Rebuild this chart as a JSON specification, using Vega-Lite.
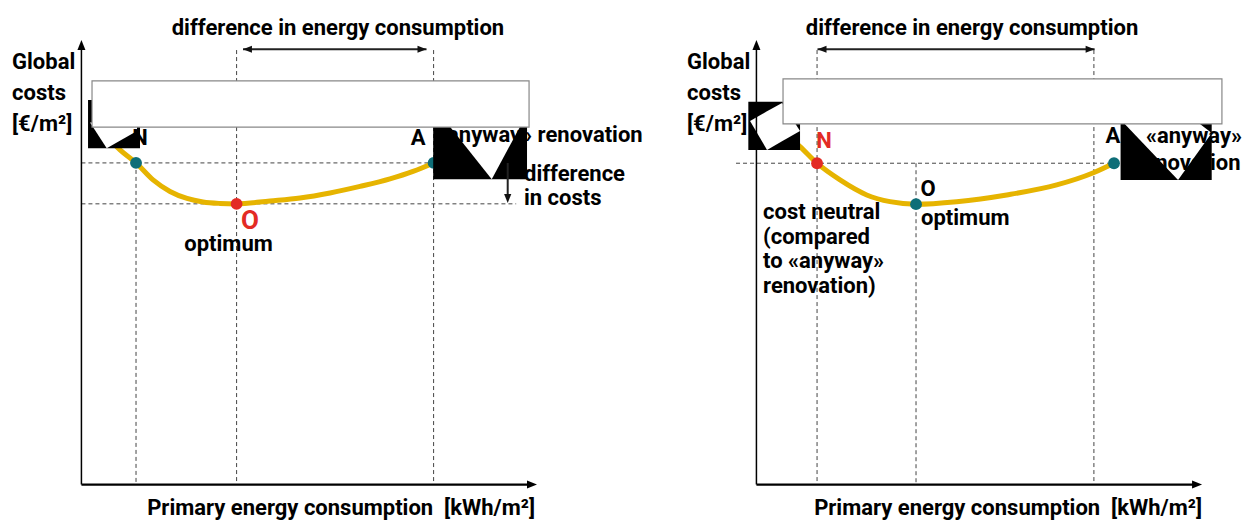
{
  "$schema": "https://vega.github.io/schema/vega-lite/v6.json",
  "autosize": {"type": "pad"},
  "padding": 0,
  "background": "white",
  "spacing": 105,
  "bounds": "flush",
  "data": {"values": [
    {"panel": "a", "kind": "guide", "x": 12.07, "x2": 12.07, "y": 72.62, "y2": 0},
    {"panel": "a", "kind": "guide", "x": 34.3, "x2": 34.3, "y": 98.1, "y2": 0},
    {"panel": "a", "kind": "guide", "x": 77.85, "x2": 77.85, "y": 98.1, "y2": 0},
    {"panel": "a", "kind": "guide", "x": 0, "x2": 98.5, "y": 72.62, "y2": 72.62},
    {"panel": "a", "kind": "guide", "x": 0, "x2": 96.1, "y": 63.38, "y2": 63.38},
    {"panel": "b", "kind": "guide", "x": 13.4, "x2": 13.4, "y": 98.1, "y2": 0},
    {"panel": "b", "kind": "guide", "x": 35.28, "x2": 35.28, "y": 72.55, "y2": 0},
    {"panel": "b", "kind": "guide", "x": 74.6, "x2": 74.6, "y": 98.1, "y2": 0},
    {"panel": "b", "kind": "guide", "x": -4.51, "x2": 78.6, "y": 72.55, "y2": 72.55},

    {"panel": "a", "kind": "curve", "i": 0, "x": 6.76, "y": 77.35},
    {"panel": "a", "kind": "curve", "i": 1, "x": 8.53, "y": 75.55},
    {"panel": "a", "kind": "curve", "i": 2, "x": 12.07, "y": 72.62},
    {"panel": "a", "kind": "curve", "i": 3, "x": 15.83, "y": 68.78},
    {"panel": "a", "kind": "curve", "i": 4, "x": 19.58, "y": 66.18},
    {"panel": "a", "kind": "curve", "i": 5, "x": 23.34, "y": 64.6},
    {"panel": "a", "kind": "curve", "i": 6, "x": 26.88, "y": 63.81},
    {"panel": "a", "kind": "curve", "i": 7, "x": 30.64, "y": 63.47},
    {"panel": "a", "kind": "curve", "i": 8, "x": 34.3, "y": 63.36},
    {"panel": "a", "kind": "curve", "i": 9, "x": 41.69, "y": 64.03},
    {"panel": "a", "kind": "curve", "i": 10, "x": 48.32, "y": 64.71},
    {"panel": "a", "kind": "curve", "i": 11, "x": 54.95, "y": 65.84},
    {"panel": "a", "kind": "curve", "i": 12, "x": 61.58, "y": 67.31},
    {"panel": "a", "kind": "curve", "i": 13, "x": 68.21, "y": 69.0},
    {"panel": "a", "kind": "curve", "i": 14, "x": 73.3, "y": 70.69},
    {"panel": "a", "kind": "curve", "i": 15, "x": 77.85, "y": 72.62},
    {"panel": "b", "kind": "curve", "i": 0, "x": 6.98, "y": 78.71},
    {"panel": "b", "kind": "curve", "i": 1, "x": 9.64, "y": 76.29},
    {"panel": "b", "kind": "curve", "i": 2, "x": 13.4, "y": 72.55},
    {"panel": "b", "kind": "curve", "i": 3, "x": 18.48, "y": 68.77},
    {"panel": "b", "kind": "curve", "i": 4, "x": 24.38, "y": 65.39},
    {"panel": "b", "kind": "curve", "i": 5, "x": 29.53, "y": 63.87},
    {"panel": "b", "kind": "curve", "i": 6, "x": 35.28, "y": 63.3},
    {"panel": "b", "kind": "curve", "i": 7, "x": 44.27, "y": 63.87},
    {"panel": "b", "kind": "curve", "i": 8, "x": 55.33, "y": 65.39},
    {"panel": "b", "kind": "curve", "i": 9, "x": 66.38, "y": 67.65},
    {"panel": "b", "kind": "curve", "i": 10, "x": 74.5, "y": 70.4},
    {"panel": "b", "kind": "curve", "i": 11, "x": 79.04, "y": 72.55},

    {"panel": "a", "kind": "point", "hl": "no", "x": 12.07, "y": 72.62},
    {"panel": "a", "kind": "point", "hl": "yes", "x": 34.3, "y": 63.36},
    {"panel": "a", "kind": "point", "hl": "no", "x": 77.85, "y": 72.62},
    {"panel": "b", "kind": "point", "hl": "yes", "x": 13.4, "y": 72.55},
    {"panel": "b", "kind": "point", "hl": "no", "x": 35.28, "y": 63.3},
    {"panel": "b", "kind": "point", "hl": "no", "x": 79.04, "y": 72.55},

    {"panel": "a", "kind": "black", "x": 1.46, "x2": 12.95, "y": 86.84, "y2": 75.93},
    {"panel": "a", "kind": "black", "x": 77.76, "x2": 98.5, "y": 80.81, "y2": 68.93},
    {"panel": "b", "kind": "black", "x": -1.79, "x2": 9.64, "y": 86.45, "y2": 75.55},
    {"panel": "b", "kind": "black", "x": 80.5, "x2": 100.64, "y": 81.58, "y2": 68.77},

    {"panel": "a", "kind": "white", "grp": "a1", "x": 1.9, "y": 81.77, "y2": 81.77},
    {"panel": "a", "kind": "white", "grp": "a1", "x": 5.59, "y": 81.77, "y2": 75.93},
    {"panel": "a", "kind": "white", "grp": "a1", "x": 12.29, "y": 81.77, "y2": 79.81},
    {"panel": "a", "kind": "white", "grp": "a2", "x": 81.48, "y": 80.81, "y2": 80.81},
    {"panel": "a", "kind": "white", "grp": "a2", "x": 90.7, "y": 80.81, "y2": 68.93},
    {"panel": "a", "kind": "white", "grp": "a2", "x": 96.96, "y": 80.81, "y2": 80.81},
    {"panel": "b", "kind": "white", "grp": "b1", "x": -1.41, "y": 82.1, "y2": 82.1},
    {"panel": "b", "kind": "white", "grp": "b1", "x": 2.34, "y": 84.26, "y2": 75.55},
    {"panel": "b", "kind": "white", "grp": "b1", "x": 5.66, "y": 86.16, "y2": 77.49},
    {"panel": "b", "kind": "white", "grp": "b1", "x": 9.64, "y": 79.84, "y2": 79.84},
    {"panel": "b", "kind": "white", "grp": "b2", "x": 81.26, "y": 81.58, "y2": 81.58},
    {"panel": "b", "kind": "white", "grp": "b2", "x": 93.2, "y": 81.58, "y2": 68.77},
    {"panel": "b", "kind": "white", "grp": "b2", "x": 97.84, "y": 81.58, "y2": 75.39},
    {"panel": "b", "kind": "white", "grp": "b2", "x": 100.64, "y": 79.39, "y2": 79.39},

    {"panel": "a", "kind": "box", "x": 2.34, "x2": 98.95, "y": 91.13, "y2": 80.72},
    {"panel": "b", "kind": "box", "x": 5.88, "x2": 102.9, "y": 91.58, "y2": 81.42},

    {"panel": "a", "kind": "yaxis", "x": 0, "x2": 0, "y": 0, "y2": 98.55},
    {"panel": "a", "kind": "xaxis", "x": 0, "x2": 99.15, "y": 0, "y2": 0},
    {"panel": "b", "kind": "yaxis", "x": 0, "x2": 0, "y": 0, "y2": 98.55},
    {"panel": "b", "kind": "xaxis", "x": 0, "x2": 96.95, "y": 0, "y2": 0},
    {"panel": "a", "kind": "head", "dir": "up", "x": 0, "y": 99.25},
    {"panel": "a", "kind": "head", "dir": "right", "x": 99.6, "y": 0},
    {"panel": "b", "kind": "head", "dir": "up", "x": 0, "y": 99.25},
    {"panel": "b", "kind": "head", "dir": "right", "x": 97.4, "y": 0},

    {"panel": "a", "kind": "arrow", "x": 35.72, "x2": 76.28, "y": 98.28, "y2": 98.28},
    {"panel": "a", "kind": "arrow", "x": 94.23, "x2": 94.23, "y": 72.6, "y2": 65.16},
    {"panel": "b", "kind": "arrow", "x": 13.5, "x2": 74.76, "y": 98.28, "y2": 98.28},
    {"panel": "a", "kind": "ahead", "dir": "left", "x": 36.7, "y": 98.28},
    {"panel": "a", "kind": "ahead", "dir": "right", "x": 75.29, "y": 98.28},
    {"panel": "a", "kind": "ahead", "dir": "down", "x": 94.23, "y": 64.6},
    {"panel": "b", "kind": "ahead", "dir": "left", "x": 14.5, "y": 98.28},
    {"panel": "b", "kind": "ahead", "dir": "right", "x": 73.76, "y": 98.28},

    {"panel": "a", "kind": "tl", "text": "Global", "x": -15.34, "y": 95.42},
    {"panel": "a", "kind": "tl", "text": "costs", "x": -15.34, "y": 88.3},
    {"panel": "a", "kind": "tl", "text": "[€/m²]", "x": -15.34, "y": 81.42},
    {"panel": "a", "kind": "tc", "text": "difference in energy consumption", "x": 56.7, "y": 103.09},
    {"panel": "a", "kind": "tc", "text": "N", "x": 12.95, "y": 78.26},
    {"panel": "a", "kind": "tc", "text": "A", "x": 74.42, "y": 78.26},
    {"panel": "a", "kind": "tl", "text": "«anyway» renovation", "x": 78.4, "y": 78.94},
    {"panel": "a", "kind": "bigred", "text": "O", "x": 37.27, "y": 59.6},
    {"panel": "a", "kind": "tc", "text": "optimum", "x": 32.52, "y": 54.4},
    {"panel": "a", "kind": "tl", "text": "difference", "x": 97.83, "y": 70.13},
    {"panel": "a", "kind": "tl", "text": "in costs", "x": 97.83, "y": 64.71},
    {"panel": "a", "kind": "tr", "text": "Primary energy consumption \u00a0[kWh/m²]", "x": 100.27, "y": -5.28},
    {"panel": "b", "kind": "tl", "text": "Global", "x": -15.34, "y": 95.42},
    {"panel": "b", "kind": "tl", "text": "costs", "x": -15.34, "y": 88.3},
    {"panel": "b", "kind": "tl", "text": "[€/m²]", "x": -15.34, "y": 81.42},
    {"panel": "b", "kind": "tc", "text": "difference in energy consumption", "x": 47.66, "y": 103.09},
    {"panel": "b", "kind": "red", "text": "N", "x": 14.94, "y": 77.58},
    {"panel": "b", "kind": "tc", "text": "O", "x": 37.93, "y": 66.74},
    {"panel": "b", "kind": "tl", "text": "optimum", "x": 36.39, "y": 60.2},
    {"panel": "b", "kind": "tl", "text": "cost neutral", "x": 1.46, "y": 61.44},
    {"panel": "b", "kind": "tl", "text": "(compared", "x": 1.46, "y": 55.9},
    {"panel": "b", "kind": "tl", "text": "to «anyway»", "x": 1.46, "y": 50.37},
    {"panel": "b", "kind": "tl", "text": "renovation)", "x": 1.46, "y": 44.84},
    {"panel": "b", "kind": "tc", "text": "A", "x": 78.82, "y": 78.71},
    {"panel": "b", "kind": "tc", "text": "«anyway»", "x": 96.73, "y": 78.71},
    {"panel": "b", "kind": "tc", "text": "renovation", "x": 95.4, "y": 72.55},
    {"panel": "b", "kind": "tr", "text": "Primary energy consumption \u00a0[kWh/m²]", "x": 98.5, "y": -5.28}
  ]},
  "facet": {"column": {"field": "panel", "type": "nominal", "header": null}},
  "spec": {
    "width": 570,
    "height": 520,
    "encoding": {
      "x": {"field": "x", "type": "quantitative", "scale": {"domain": [-18, 108], "nice": false, "zero": false}, "axis": null},
      "y": {"field": "y", "type": "quantitative", "scale": {"domain": [-8, 109.4], "nice": false, "zero": false}, "axis": null}
    },
    "layer": [
      {"transform": [{"filter": "datum.kind === 'guide'"}],
       "mark": {"type": "rule", "strokeDash": [4, 3], "color": "#444444", "strokeWidth": 1},
       "encoding": {"x2": {"field": "x2"}, "y2": {"field": "y2"}}},
      {"transform": [{"filter": "datum.kind === 'curve'"}],
       "mark": {"type": "line", "color": "#E6B400", "strokeWidth": 5, "interpolate": "monotone", "strokeCap": "round"},
       "encoding": {"order": {"field": "i", "type": "quantitative"}}},
      {"transform": [{"filter": "datum.kind === 'point'"}],
       "mark": {"type": "point", "filled": true, "size": 140, "opacity": 1},
       "encoding": {"color": {"field": "hl", "type": "nominal", "scale": {"domain": ["no", "yes"], "range": ["#0E6E78", "#E32B24"]}, "legend": null}}},
      {"transform": [{"filter": "datum.kind === 'black'"}],
       "mark": {"type": "rect", "color": "#000000"},
       "encoding": {"x2": {"field": "x2"}, "y2": {"field": "y2"}}},
      {"transform": [{"filter": "datum.kind === 'white'"}],
       "mark": {"type": "area", "color": "#ffffff", "opacity": 1},
       "encoding": {"y2": {"field": "y2"}, "detail": {"field": "grp", "type": "nominal"}}},
      {"transform": [{"filter": "datum.kind === 'box'"}],
       "mark": {"type": "rect", "fill": "#ffffff", "stroke": "#888888", "strokeWidth": 1.2},
       "encoding": {"x2": {"field": "x2"}, "y2": {"field": "y2"}}},
      {"transform": [{"filter": "datum.kind === 'yaxis'"}],
       "mark": {"type": "rule", "color": "#000000", "strokeWidth": 1.5},
       "encoding": {"x2": {"field": "x2"}, "y2": {"field": "y2"}}},
      {"transform": [{"filter": "datum.kind === 'xaxis'"}],
       "mark": {"type": "rule", "color": "#000000", "strokeWidth": 2.2},
       "encoding": {"x2": {"field": "x2"}, "y2": {"field": "y2"}}},
      {"transform": [{"filter": "datum.kind === 'arrow'"}],
       "mark": {"type": "rule", "color": "#222222", "strokeWidth": 2},
       "encoding": {"x2": {"field": "x2"}, "y2": {"field": "y2"}}},
      {"transform": [{"filter": "datum.kind === 'head'"}],
       "mark": {"type": "point", "filled": true, "size": 100, "color": "#000000", "opacity": 1},
       "encoding": {"shape": {"field": "dir", "type": "nominal", "legend": null,
         "scale": {"domain": ["up", "right", "left", "down"], "range": ["M0,-1L0.8,1L-0.8,1Z", "M1,0L-1,-0.8L-1,0.8Z", "M-1,0L1,-0.8L1,0.8Z", "M0,1L-0.8,-1L0.8,-1Z"]}}}},
      {"transform": [{"filter": "datum.kind === 'ahead'"}],
       "mark": {"type": "point", "filled": true, "size": 81, "color": "#111111", "opacity": 1},
       "encoding": {"shape": {"field": "dir", "type": "nominal", "legend": null,
         "scale": {"domain": ["up", "right", "left", "down"], "range": ["M0,-1L0.8,1L-0.8,1Z", "M1,0L-1,-0.8L-1,0.8Z", "M-1,0L1,-0.8L1,0.8Z", "M0,1L-0.8,-1L0.8,-1Z"]}}}},
      {"transform": [{"filter": "datum.kind === 'tl'"}],
       "mark": {"type": "text", "align": "left", "baseline": "middle", "color": "#000000"},
       "encoding": {"text": {"field": "text"}}},
      {"transform": [{"filter": "datum.kind === 'tc'"}],
       "mark": {"type": "text", "align": "center", "baseline": "middle", "color": "#000000"},
       "encoding": {"text": {"field": "text"}}},
      {"transform": [{"filter": "datum.kind === 'tr'"}],
       "mark": {"type": "text", "align": "right", "baseline": "middle", "color": "#000000"},
       "encoding": {"text": {"field": "text"}}},
      {"transform": [{"filter": "datum.kind === 'red'"}],
       "mark": {"type": "text", "align": "center", "baseline": "middle", "color": "#E32B24"},
       "encoding": {"text": {"field": "text"}}},
      {"transform": [{"filter": "datum.kind === 'bigred'"}],
       "mark": {"type": "text", "align": "center", "baseline": "middle", "color": "#E32B24", "fontSize": 26},
       "encoding": {"text": {"field": "text"}}}
    ]
  },
  "config": {
    "view": {"stroke": null},
    "text": {"font": "Roboto", "fontWeight": "bold", "fontSize": 22}
  }
}
